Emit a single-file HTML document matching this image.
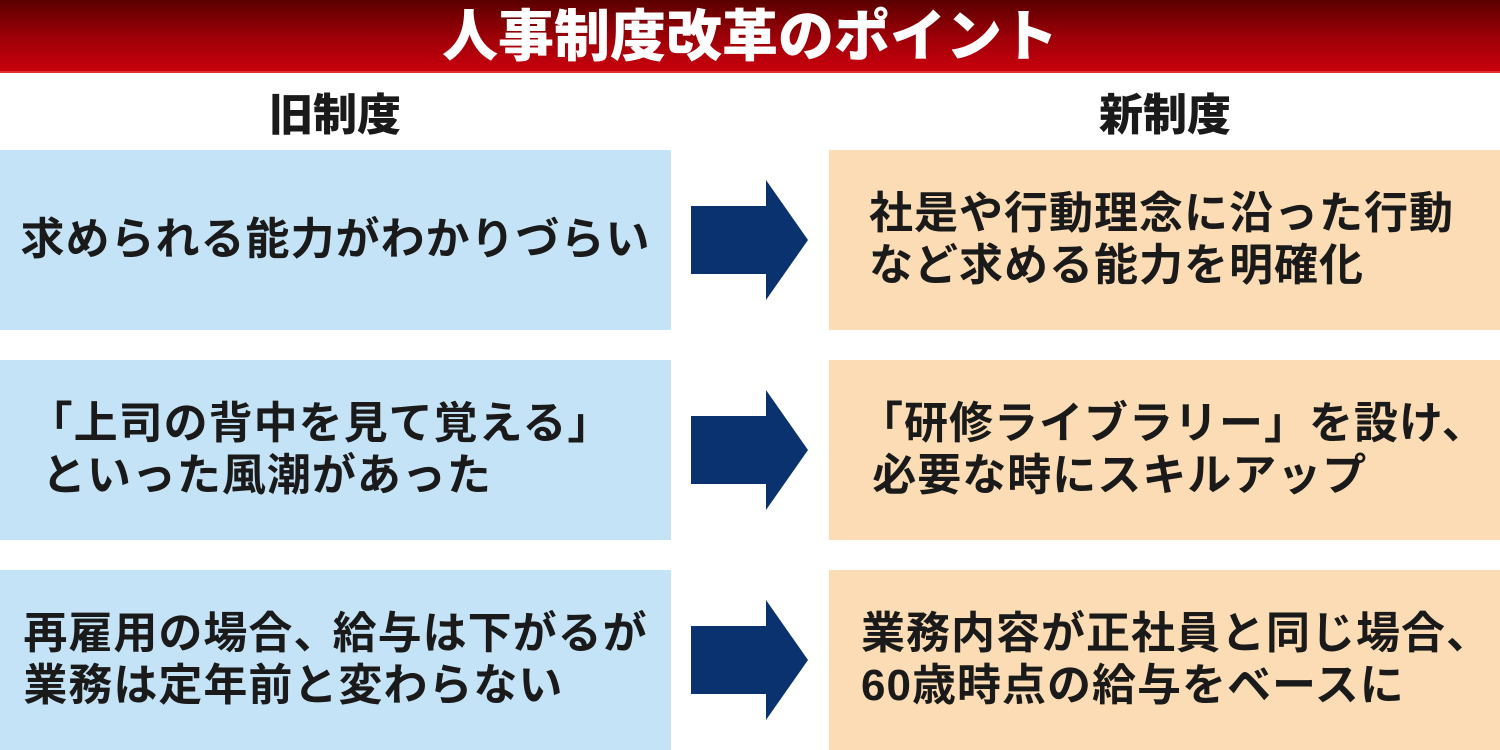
<!DOCTYPE html>
<html><head><meta charset="utf-8"><style>
*{margin:0;padding:0;box-sizing:border-box}
body{width:1500px;height:750px;background:#fff;position:relative;overflow:hidden;font-family:"Liberation Sans","Noto Sans CJK JP",sans-serif;color:#1a1a1a}
.hdr{position:absolute;left:0;top:0;width:1500px;height:73px;background:linear-gradient(#5a0000,#a00008 55%,#c8000e);border-bottom:2px solid #e03030;color:#fff;font-weight:900;font-size:56px;text-align:center;line-height:73px;letter-spacing:0px}
.sub{position:absolute;top:88px;width:200px;text-align:center;font-weight:900;font-size:44px;line-height:56px}
.box{position:absolute;height:180px;display:flex;flex-direction:column;justify-content:center;font-size:44px;font-weight:700;line-height:52px;white-space:nowrap;letter-spacing:1px}
.l{left:0;width:671px;background:#c5e3f6;align-items:center}
.r{left:829px;width:671px;background:#fbdcb4;padding-left:40px}
.arr{position:absolute;left:691px;width:117px;height:120px}
</style></head><body>
<div class="hdr">人事制度改革のポイント</div>
<div class="sub" style="left:235px">旧制度</div>
<div class="sub" style="left:1065px">新制度</div>

<div class="box l" style="top:150px"><div>求められる能力がわかりづらい</div></div>
<div class="box l" style="top:360px"><div style="margin-left:-30px">「上司の背中を見て覚える」<br>&nbsp;といった風潮があった</div></div>
<div class="box l" style="top:570px"><div style="margin-left:0px">再雇用の場合<span style="letter-spacing:-18px">、</span>&nbsp;給与は下がるが<br>業務は定年前と変わらない</div></div>

<div class="box r" style="top:150px"><div>社是や行動理念に沿った行動<br>など求める能力を明確化</div></div>
<div class="box r" style="top:360px"><div style="margin-left:-10px">「研修ライブラリー」を設け、<br>&nbsp;必要な時にスキルアップ</div></div>
<div class="box r" style="top:570px"><div style="margin-left:-8px">業務内容が正社員と同じ場合、<br>60歳時点の給与をベースに</div></div>

<svg class="arr" style="top:180px" viewBox="0 0 117 120"><polygon points="0,26 75,26 75,0 117,60 75,120 75,94 0,94" fill="#0a326e"/></svg>
<svg class="arr" style="top:390px" viewBox="0 0 117 120"><polygon points="0,26 75,26 75,0 117,60 75,120 75,94 0,94" fill="#0a326e"/></svg>
<svg class="arr" style="top:600px" viewBox="0 0 117 120"><polygon points="0,26 75,26 75,0 117,60 75,120 75,94 0,94" fill="#0a326e"/></svg>
</body></html>
